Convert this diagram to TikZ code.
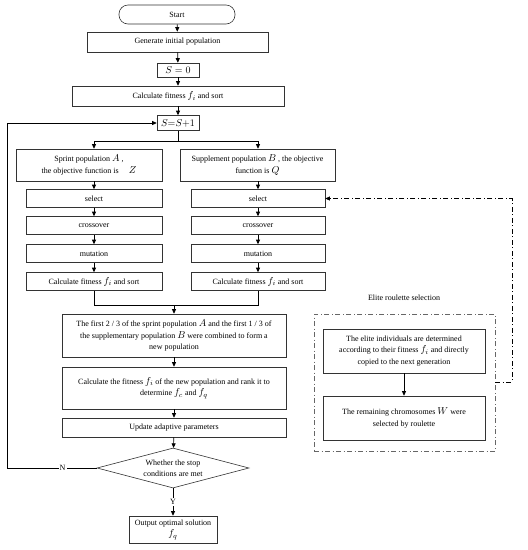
\documentclass[tikz,border=0pt]{standalone}
\usepackage{fontspec}
\setmainfont{Liberation Serif}
\usetikzlibrary{arrows.meta,shapes.geometric}
\newcommand{\mv}[1]{{\fontsize{10}{11}\selectfont$#1$}}
\tikzset{
  stepbox/.style={draw=black!80,line width=0.6pt,align=center,inner sep=1pt,
                  font=\fontsize{8}{11.3}\selectfont},
  arr/.style={-{Triangle[length=4.5pt,width=4pt]},line width=0.7pt},
  dashdot/.style={dash pattern=on 5pt off 2.5pt on 1pt off 2.5pt},
}

\begin{document}
\begin{tikzpicture}[x=1pt,y=-1pt]
  \useasboundingbox (0,0) rectangle (528,550);
  % main column
  \node[stepbox,rounded corners=9pt,minimum width=116pt,minimum height=19pt] (start) at (177,14.5) {Start};
  \node[stepbox,minimum width=181pt,minimum height=20pt] (init) at (177.5,42) {Generate initial population};
  \node[stepbox,minimum width=42pt,minimum height=14pt] (szero) at (178,70) {\mv{S=0}};
  \node[stepbox,minimum width=212pt,minimum height=20pt] (fit0) at (178,96) {Calculate fitness \mv{f_i} and sort};
  \node[stepbox,minimum width=42pt,minimum height=15pt] (sinc) at (178,123) {\mv{S{=}S{+}1}};
  \draw[arr] (start) -- (init);
  \draw[arr] (init) -- (szero);
  \draw[arr] (szero) -- (fit0);
  \draw[arr] (fit0) -- (sinc);

  % two populations
  \node[stepbox,minimum width=146pt,minimum height=32pt] (popA) at (89,165)
    {Sprint population \mv{A} ,\\ the objective function is \quad \mv{Z}};
  \node[stepbox,minimum width=155pt,minimum height=32pt] (popB) at (257.5,165)
    {Supplement population \mv{B} , the objective\\ function is \mv{Q}};
  \foreach \n/\t/\y in {sel/select/198.5, crs/crossover/225.5, mut/mutation/253.5,
                        fit/{Calculate fitness \mv{f_i} and sort}/281.5}{
    \node[stepbox,minimum width=136pt,minimum height=18pt] (\n A) at (94,\y) {\t};
    \node[stepbox,minimum width=134pt,minimum height=18pt] (\n B) at (258,\y) {\t};
  }
  \coordinate (br) at (178,141);
  \draw (sinc) -- (br);
  \draw[arr] (br) -| (selA |- popA.north);
  \draw[arr] (br) -| (selB |- popB.north);
  \draw[arr] (selA |- popA.south) -- (selA);
  \draw[arr] (selB |- popB.south) -- (selB);
  \foreach \a/\b in {sel/crs, crs/mut, mut/fit}{
    \draw[arr] (\a A) -- (\b A);
    \draw[arr] (\a B) -- (\b B);
  }

  % merge and loop
  \node[stepbox,minimum width=224pt,minimum height=43pt] (merge) at (174,335.5)
    {The first 2 / 3 of the sprint population \mv{A} and the first 1 / 3 of\\
     the supplementary population \mv{B} were combined to form a\\ new population};
  \node[stepbox,minimum width=224pt,minimum height=42pt] (fitnew) at (174,388)
    {Calculate the fitness \mv{f_i} of the new population and rank it to\\ determine \mv{f_c} and \mv{f_q}};
  \node[stepbox,minimum width=224pt,minimum height=19pt] (update) at (174,427.5) {Update adaptive parameters};
  \node[stepbox,diamond,aspect=3.8,minimum width=152pt,minimum height=40pt,inner sep=0pt] (stop) at (173,468)
    {Whether the stop\\ conditions are met};
  \node[stepbox,minimum width=88pt,minimum height=27pt] (out) at (173,529.5) {Output optimal solution\\ \mv{f_q}};
  \coordinate (mg) at (174,305);
  \draw (fitA) |- (fitB |- mg) -- (fitB);
  \draw[arr] (mg) -- (merge);
  \draw[arr] (merge) -- (fitnew);
  \draw[arr] (fitnew) -- (update);
  \draw[arr] (update) -- (stop);
  \draw[arr] (stop) -- node[fill=white,inner sep=1pt,font=\fontsize{8}{9}\selectfont]{Y} (out);
  \coordinate (lp) at (7,468);
  \draw[arr] (stop.west) -- node[pos=0.38,fill=white,inner sep=1pt,font=\fontsize{8}{9}\selectfont]{N} (lp) |- (sinc);

  % elite roulette selection
  \node[font=\fontsize{8}{9}\selectfont] (elab) at (404,298) {Elite roulette selection};
  \node[draw=black!60,dashdot,line width=0.6pt,minimum width=181pt,minimum height=137pt] (group) at (404.5,382.5) {};
  \node[stepbox,minimum width=162pt,minimum height=44pt] (elite) at (404,351)
    {The elite individuals are determined\\ according to their fitness \mv{f_i} and directly\\ copied to the next generation};
  \node[stepbox,minimum width=162pt,minimum height=44pt] (remain) at (404,418)
    {The remaining chromosomes \mv{W} were\\ selected by roulette};
  \draw[arr] (elite) -- (remain);
  \coordinate (dd) at (512,382);
  \draw[arr,dashdot] (group.east |- dd) -- (dd) |- (selB);
\end{tikzpicture}
\end{document}
